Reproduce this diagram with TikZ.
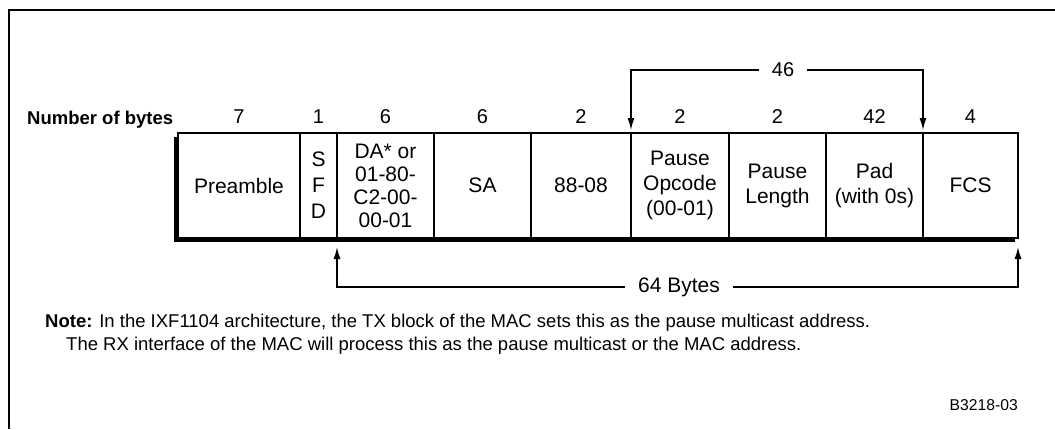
\documentclass[tikz,border=0pt]{standalone}
\usepackage{fontspec}
\setmainfont{Liberation Sans}
\usetikzlibrary{positioning,arrows.meta}

\begin{document}
\begin{tikzpicture}[
  x=1pt,y=-1pt,
  every node/.style={align=center,inner sep=0pt},
  field/.style={draw,fill=white,line width=1.5pt,minimum height=105pt,outer sep=0pt,font=\fontsize{21}{25}\selectfont},
  count/.style={font=\fontsize{20}{24}\selectfont},
  span/.style={fill=white,inner xsep=13pt,font=\fontsize{21}{25}\selectfont},
  arr/.style={-{Latex[length=12pt,width=7pt]},line width=1.4pt},
  note/.style={anchor=west,font=\fontsize{18.5}{22}\selectfont}
]
  \useasboundingbox (0,0) rectangle (1055,429);
  \draw[line width=2pt] (1055,10) -- (8.5,10) -- (8.5,429);

  % frame shadow
  \fill (174,137) rectangle (1015,242);

  % fields of the pause frame
  \node[field,minimum width=122pt] (preamble) at (239,185.5) {Preamble};
  \node[field,minimum width=37pt,right=0pt of preamble] (sfd) {S\\[1pt]F\\[1pt]D};
  \node[field,minimum width=97pt,right=0pt of sfd,font=\fontsize{21}{23}\selectfont] (da) {DA* or\\01-80-\\C2-00-\\00-01};
  \node[field,minimum width=97pt,right=0pt of da] (sa) {SA};
  \node[field,minimum width=100pt,right=0pt of sa] (type) {88-08};
  \node[field,minimum width=98pt,right=0pt of type] (opcode) {Pause\\Opcode\\(00-01)};
  \node[field,minimum width=97pt,right=0pt of opcode] (plen) {Pause\\Length};
  \node[field,minimum width=97pt,right=0pt of plen] (pad) {Pad\\(with 0s)};
  \node[field,minimum width=95pt,right=0pt of pad] (fcs) {FCS};

  % byte counts
  \node[anchor=base west,font=\fontsize{18.5}{22}\bfseries] (bytes) at (27,124) {Number of bytes};
  \node[count,above=9pt of preamble] (n-preamble) {7};
  \node[count,above=9pt of sfd] (n-sfd) {1};
  \node[count,above=9pt of da] (n-da) {6};
  \node[count,above=9pt of sa] (n-sa) {6};
  \node[count,above=9pt of type] (n-type) {2};
  \node[count,above=9pt of opcode] (n-opcode) {2};
  \node[count,above=9pt of plen] (n-plen) {2};
  \node[count,above=9pt of pad] (n-pad) {42};
  \node[count,above=9pt of fcs] (n-fcs) {4};

  % spans
  \node[span,font=\fontsize{20}{24}\selectfont] (n46) at (783,70) {46};
  \draw[arr,shorten >=3pt] (n46.west) -| (opcode.north west);
  \draw[arr,shorten >=3pt] (n46.east) -| (pad.north east);

  \node[span] (n64) at (679,287) {64 Bytes};
  \draw[arr,shorten >=9pt] (n64.west) -| (da.south west);
  \draw[arr,shorten >=9pt] (n64.east) -| (fcs.south east);

  % note
  \node[note] (note1) at (45,323) {\textbf{Note:} In the IXF1104 architecture, the TX block of the MAC sets this as the pause multicast address.};
  \node[note] (note2) at (66,346) {The RX interface of the MAC will process this as the pause multicast or the MAC address.};
  \node[anchor=east,font=\fontsize{15.7}{19}\selectfont] (fignum) at (1018,405) {B3218-03};
\end{tikzpicture}
\end{document}
